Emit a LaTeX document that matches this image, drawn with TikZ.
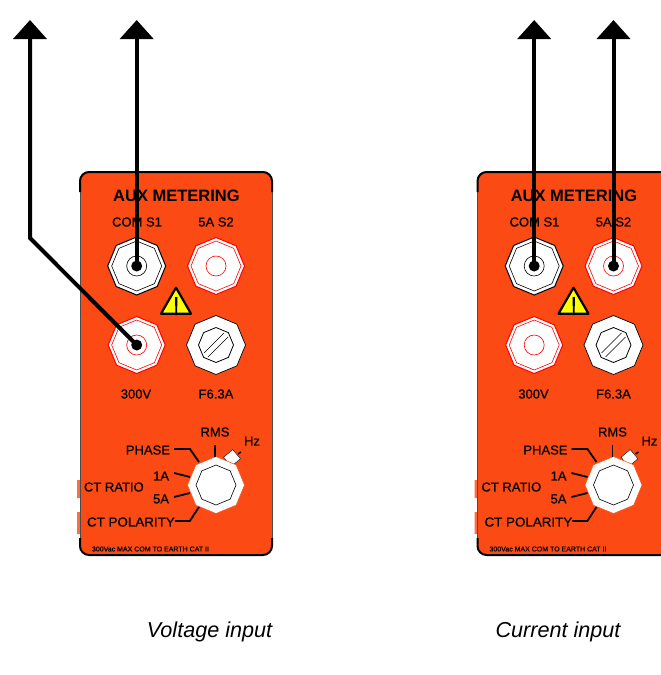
\documentclass[tikz,border=0pt]{standalone}
\usepackage{fontspec}
\setmainfont{Liberation Sans}
\newfontfamily\labfont[FakeBold=0.5]{Liberation Sans}
\usetikzlibrary{shapes.geometric,arrows.meta}
\definecolor{panelorange}{HTML}{FC4A14}
\definecolor{warnyellow}{HTML}{FFFF00}
\tikzset{
  every node/.style={inner sep=0pt,outer sep=0pt},
  oct/.style={regular polygon,regular polygon sides=8,shape border rotate=22.5,fill=white,minimum size=#1},
  lab/.style={font=\labfont\fontsize{13}{13}\selectfont,text=black},
  wire/.style={draw=black,line width=4pt,-{Triangle[length=19pt,width=33pt]}},
  lead/.style={draw=black,line width=1.8pt},
  dot/.style={circle,fill=black,minimum size=11pt},
  capt/.style={font=\fontsize{21.6}{21.6}\selectfont\itshape,text=black}
}
\newcommand{\auxpanel}[2]{%
 \begin{scope}[shift={(#2,0)}]
  \fill[panelorange!80!white] (77,480) rectangle (80,498) (77,512) rectangle (80,534);
  \fill[panelorange,rounded corners=9pt] (80,172) rectangle (272,555);
  \draw[black!70,line width=.5pt] (80,190) -- (80,540) (272,190) -- (272,540);
  \draw[black,line width=2pt,rounded corners=9pt] (80,192) -- (80,172) -- (272,172) -- (272,192);
  \draw[black,line width=2pt,rounded corners=9pt] (80,538) -- (80,555) -- (272,555) -- (272,538);
  \node[font=\fontsize{16.5}{16.5}\selectfont\bfseries,text=black] (#1title) at (176.5,196) {AUX METERING};
  \node[lab] (#1coml) at (137,222) {COM S1};
  \node[lab] (#1fivel) at (216,222) {5A S2};
  \node[lab] (#1vl) at (136,394) {300V};
  \node[lab] (#1fl) at (216,394) {F6.3A};
  % sockets
  \node[oct=58pt,draw=black,line width=1pt] (#1com) at (136.7,266) {};
  \node[oct=50pt,draw=black,line width=.6pt] (#1comi) at (136.7,266) {};
  \node[circle,fill=white,draw=black,line width=.6pt,minimum size=20pt] (#1comc) at (136.7,266) {};
  \node[oct=57pt,draw=red,line width=1pt] (#1five) at (216,266) {};
  \node[oct=50pt,draw=red,line width=.6pt] (#1fivei) at (216,266) {};
  \node[circle,fill=white,draw=red,line width=.6pt,minimum size=20pt] (#1fivec) at (216,266) {};
  \node[oct=57pt,draw=red,line width=1pt] (#1v) at (136.7,345) {};
  \node[oct=50pt,draw=red,line width=.6pt] (#1vi) at (136.7,345) {};
  \node[circle,fill=white,draw=red,line width=.6pt,minimum size=20pt] (#1vc) at (136.7,345) {};
  \node[oct=59pt,draw=black,line width=.7pt] (#1fuse) at (216,345) {};
  \node[oct=35pt,draw=black,line width=.8pt] (#1fusei) at (216,345) {};
  \draw[black,line width=.6pt] (204,353) -- (224,333) (208,357) -- (228,337);
  % warning triangle
  \node[draw=black,fill=warnyellow,line width=2.2pt,line join=round,isosceles triangle,isosceles triangle apex angle=60,shape border rotate=90,minimum height=26pt] (#1warn) at (176,305) {};
  \fill[black] (175,297) -- (177.5,297) -- (177,315) -- (175.5,315) -- cycle;
  % knob labels
  \node[lab] (#1rms) at (215,432) {RMS};
  \node[lab] (#1hz) at (252,441) {Hz};
  \node[lab,anchor=east] (#1phase) at (170,450) {PHASE};
  \node[lab,anchor=east] (#1a) at (169,476) {1A};
  \node[lab,anchor=east] (#1b) at (169,499) {5A};
  \node[lab,anchor=west] (#1ratio) at (84,487) {CT RATIO};
  \node[lab,anchor=west,xscale=1.03] (#1pol) at (87,522) {CT POLARITY};
  \node[font=\labfont\fontsize{7}{7}\selectfont,text=black,anchor=west] (#1small) at (92,549) {300Vac MAX COM TO EARTH CAT II};
  % knob
  \fill[white,draw=black,line width=.4pt,rotate around={40:(232,458)}] (226,452) rectangle (238,464);
  \node[oct=57pt,draw=panelorange,line width=.5pt] (#1knob) at (216,485) {};
  \node[oct=40pt,draw=black,line width=.6pt] (#1knobi) at (216,485) {};
  \coordinate (#1c1) at (199,462);
  \coordinate (#1c2) at (190,477);
  \coordinate (#1c3) at (190,493);
  \coordinate (#1c4) at (199,507);
  \coordinate (#1c5) at (215,445);
  \coordinate (#1c6) at (215,457);
  \draw[lead] (#1phase.east)++(4,-1) -- ++(16,0) -- (#1c1);
  \draw[lead] (#1a.east)++(5,-3) -- (#1c2);
  \draw[lead] (#1b.east)++(5,-2) -- (#1c3);
  \draw[lead] (#1pol.east)++(0,-1) -- ++(15,0) -- (#1c4);
  \draw[lead] (#1c5) -- (#1c6);
  \draw[black,line width=1.5pt] (238,454) -- (241,452);
 \end{scope}}
\begin{document}
\begin{tikzpicture}[x=1pt,y=-1pt]
\useasboundingbox (0,0) rectangle (661,675);
\begin{scope}
\clip (0,0) rectangle (661,675);
\auxpanel{v}{0}
\auxpanel{c}{397.5}
\end{scope}
\coordinate (atop) at (30,20);
\coordinate (bend) at (30,238);
\coordinate (btop) at (136.7,20);
\coordinate (ctop) at (534.2,20);
\coordinate (dtop) at (613.5,20);
\node[dot] (vdot) at (vv) {};
\node[dot] (sdot) at (vcom) {};
\node[dot] (cdot) at (ccom) {};
\node[dot] (fdot) at (cfive) {};
\draw[wire] (vdot.center) -- (bend) -- (atop);
\draw[wire] (sdot.center) -- (btop);
\draw[wire] (cdot.center) -- (ctop);
\draw[wire] (fdot.center) -- (dtop);
\node[capt] (cap1) at (209.5,632) {Voltage input};
\node[capt] (cap2) at (558,632) {Current input};
\end{tikzpicture}
\end{document}
